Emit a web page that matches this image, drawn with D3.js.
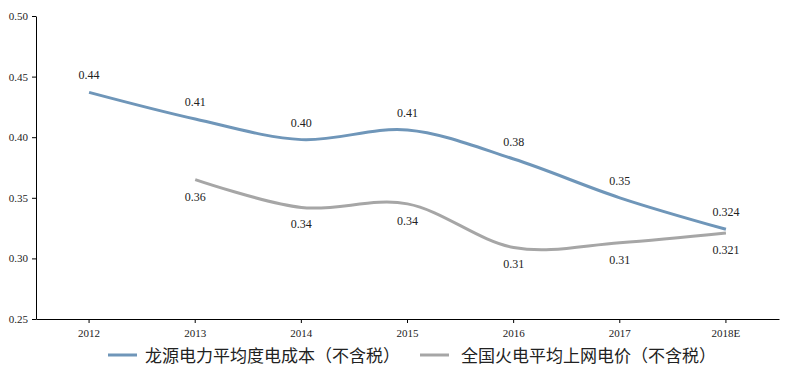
<!DOCTYPE html>
<html><head><meta charset="utf-8">
<script src="https://cdn.jsdelivr.net/npm/d3@7"></script>
<style>body{margin:0;background:#fff}</style>
</head><body>
<svg id="c" width="793" height="378"></svg>
<script>
const categories = ["2012","2013","2014","2015","2016","2017","2018E"];
const costValues = [0.437, 0.415, 0.398, 0.406, 0.382, 0.350, 0.324];
const costLabels = ["0.44","0.41","0.40","0.41","0.38","0.35","0.324"];
const priceValues = [null, 0.365, 0.342, 0.345, 0.309, 0.313, 0.321];
const priceLabels = [null, "0.36","0.34","0.34","0.31","0.31","0.321"];
const yTicks = [0.25,0.30,0.35,0.40,0.45,0.50];
const seriesNames = ["龙源电力平均度电成本（不含税）","全国火电平均上网电价（不含税）"];
const colors = ["#6f96b9","#a6a6a6"];

const svg = d3.select("#c");
const x = d3.scaleBand().domain(categories).range([36,779]);
const y = d3.scaleLinear().domain([0.25,0.50]).range([319,16]);
const cx = c => x(c) + x.bandwidth()/2;
const serif = "'Liberation Serif','Times New Roman',serif";

const ya = svg.append("g").attr("transform","translate(36,0)")
  .call(d3.axisLeft(y).tickValues(yTicks).tickFormat(d3.format(".2f")).tickSize(4).tickSizeOuter(0));
ya.select(".domain").attr("stroke","#000");
ya.selectAll("text").attr("font-family",serif).attr("font-size",11).attr("fill","#222").attr("x",-8);

const xa = svg.append("g").attr("transform","translate(0,319)")
  .call(d3.axisBottom(x).tickSize(4).tickSizeOuter(0));
xa.select(".domain").attr("stroke","#000");
xa.selectAll("text").attr("font-family",serif).attr("font-size",11).attr("fill","#222").attr("y",10);

const line = d3.line().defined(d=>d.v!=null).x(d=>cx(d.c)).y(d=>y(d.v)).curve(d3.curveCardinal.tension(0));
const s1 = categories.map((c,i)=>({c, v:costValues[i], l:costLabels[i]}));
const s2 = categories.map((c,i)=>({c, v:priceValues[i], l:priceLabels[i]}));

svg.append("path").datum(s2.filter(d=>d.v!=null)).attr("d",line).attr("fill","none").attr("stroke",colors[1]).attr("stroke-width",3);
svg.append("path").datum(s1).attr("d",line).attr("fill","none").attr("stroke",colors[0]).attr("stroke-width",3);

svg.append("g").selectAll("text").data(s1).join("text")
  .attr("x",d=>cx(d.c)).attr("y",d=>y(d.v)-13).attr("text-anchor","middle")
  .attr("font-family",serif).attr("font-size",12).attr("fill","#222").text(d=>d.l);
svg.append("g").selectAll("text").data(s2.filter(d=>d.v!=null)).join("text")
  .attr("x",d=>cx(d.c)).attr("y",d=>y(d.v)+21).attr("text-anchor","middle")
  .attr("font-family",serif).attr("font-size",12).attr("fill","#222").text(d=>d.l);

const leg = [{x:108,tx:145},{x:420,tx:461}];
leg.forEach((p,i)=>{
  svg.append("line").attr("x1",p.x).attr("x2",p.x+29).attr("y1",355).attr("y2",355).attr("stroke",colors[i]).attr("stroke-width",3);
  svg.append("text").attr("x",p.tx).attr("y",362).attr("font-family","'Noto Sans CJK SC',sans-serif")
    .attr("font-size",17).attr("fill","#222").text(seriesNames[i]);
});
</script>
</body></html>
